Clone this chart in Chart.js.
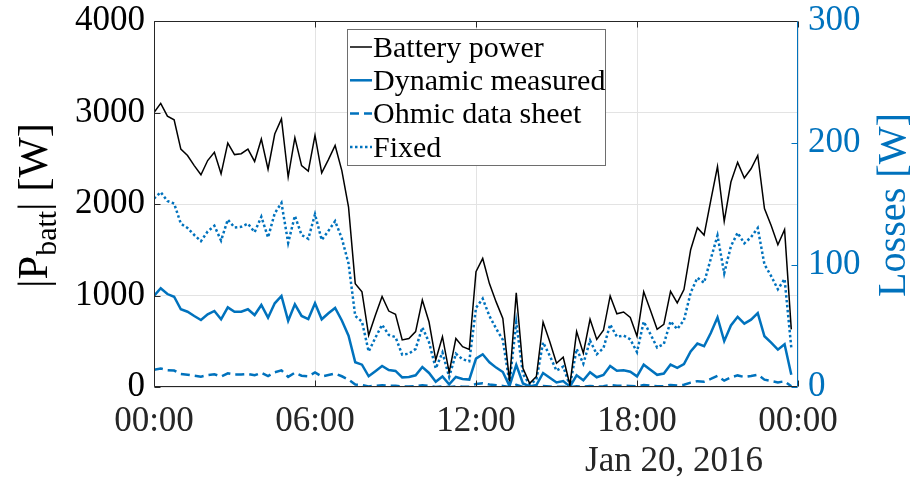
<!DOCTYPE html>
<html>
<head>
<meta charset="utf-8">
<script src="https://cdn.jsdelivr.net/npm/chart.js@4.4.1/dist/chart.umd.min.js"></script>
<style>
  html, body { margin: 0; padding: 0; background: #fff; }
  canvas { display: block; }
</style>
</head>
<body>
<canvas id="chart" width="912" height="482"></canvas>
<script>
// Jan 20, 2016, one sample every 15 minutes
const startLabel = "Jan 20, 2016";
const stepMinutes = 15;

// battery power |P_batt| [W]
const power = [
  3000, 3100, 2960, 2920, 2600, 2530, 2420, 2320, 2475, 2565, 2330, 2665, 2540, 2550, 2600, 2465, 2710, 2380, 2765, 2930, 2295, 2725, 2420, 2360,
  2750, 2340, 2485, 2640, 2365, 1965, 1130, 1040, 565, 785, 990, 830, 795, 515, 530, 605, 950, 710, 295, 550, 160, 530, 440, 410,
  1260, 1405, 1130, 930, 750, 60, 1030, 205, 40, 115, 710, 495, 260, 325, 20, 605, 370, 740, 520, 620, 995, 800, 820, 760,
  555, 1040, 840, 630, 685, 1045, 920, 1065, 1500, 1740, 1660, 2040, 2410, 1810, 2240, 2455, 2285, 2385, 2530, 1950, 1765, 1555, 1720, 630
];

// losses [W]
const dynamicMeasured = [
  74.6, 80.9, 76.2, 74.0, 63.7, 61.7, 58.2, 54.9, 59.6, 62.3, 55.5, 65.3, 61.7, 61.7, 63.7, 59.0, 67.2, 56.8, 68.6, 74.6, 54.3, 67.8, 58.2, 55.7,
  68.6, 55.5, 60.4, 64.8, 54.5, 42.0, 20.3, 18.3, 8.8, 13.0, 17.2, 13.9, 13.2, 7.9, 8.2, 9.6, 16.4, 11.5, 4.3, 8.6, 2.2, 8.2, 6.6, 6.1,
  23.3, 26.8, 20.3, 15.9, 12.3, 0.8, 18.1, 2.9, 0.5, 1.6, 11.5, 7.6, 3.7, 4.8, 0.3, 9.6, 5.5, 12.1, 8.0, 9.8, 17.3, 13.3, 13.7, 12.5,
  8.7, 18.3, 14.1, 10.0, 11.0, 18.4, 15.7, 18.8, 29.2, 35.6, 33.4, 44.3, 57.0, 37.6, 50.5, 57.5, 51.9, 55.2, 60.5, 41.6, 36.3, 30.6, 35.1, 10.0
];

const ohmicDataSheet = [
  14.2, 15.2, 13.8, 13.5, 10.7, 10.1, 9.3, 8.5, 9.7, 10.4, 8.6, 11.2, 10.2, 10.3, 10.7, 9.6, 11.6, 8.9, 12.1, 13.6, 8.3, 11.7, 9.3, 8.8,
  11.9, 8.7, 9.8, 11.0, 8.8, 6.1, 2.0, 1.7, 0.5, 1.0, 1.5, 1.1, 1.0, 0.4, 0.4, 0.6, 1.4, 0.8, 0.1, 0.5, 0.0, 0.4, 0.3, 0.3,
  2.5, 3.1, 2.0, 1.4, 0.9, 0.0, 1.7, 0.1, 0.0, 0.0, 0.8, 0.4, 0.1, 0.2, 0.0, 0.6, 0.2, 0.9, 0.4, 0.6, 1.6, 1.0, 1.1, 0.9,
  0.5, 1.7, 1.1, 0.6, 0.7, 1.7, 1.3, 1.8, 3.6, 4.8, 4.4, 6.6, 9.2, 5.2, 7.9, 9.5, 8.2, 9.0, 10.1, 6.0, 4.9, 3.8, 4.7, 0.6
];

const fixedLoss = [
  154.5, 159.7, 152.4, 150.4, 133.9, 130.3, 124.6, 119.5, 127.5, 132.1, 120.0, 137.2, 130.8, 131.3, 133.9, 126.9, 139.6, 122.6, 142.4, 150.9, 118.2, 140.3, 124.6, 121.5,
  141.6, 120.5, 128.0, 136.0, 121.8, 101.2, 58.2, 53.6, 29.1, 40.4, 51.0, 42.7, 40.9, 26.5, 27.3, 31.2, 48.9, 36.6, 15.2, 28.3, 8.2, 27.3, 22.7, 21.1,
  64.9, 72.4, 58.2, 47.9, 38.6, 3.1, 53.0, 10.6, 2.1, 5.9, 36.6, 25.5, 13.4, 16.7, 1.0, 31.2, 19.1, 38.1, 26.8, 31.9, 51.2, 41.2, 42.2, 39.1,
  28.6, 53.6, 43.3, 32.4, 35.3, 53.8, 47.4, 54.8, 77.3, 89.6, 85.5, 105.1, 124.1, 93.2, 115.4, 126.4, 117.7, 122.8, 130.3, 100.4, 90.9, 80.1, 88.6, 32.4
];

const seriesNames = ["Battery power", "Dynamic measured", "Ohmic data sheet", "Fixed"];
const xTicks = ["00:00", "06:00", "12:00", "18:00", "00:00"];

const BLUE = "#0072BD";
const FONT = "'Liberation Serif', 'Times New Roman', serif";

// hours since midnight for each sample
const hours = power.map((_, i) => i * stepMinutes / 60);
const pts = arr => arr.map((v, i) => ({ x: hours[i], y: v }));

// fixed axis sizes so the plot box lands where the original one is
const fitY = w => s => { s.width = w; s.paddingTop = 0; s.paddingBottom = 0; };

const boxPlugin = {
  id: "matlabBox",
  afterDatasetsDraw(chart) {
    const c = chart.ctx;
    const a = chart.chartArea;
    const sx = chart.scales.x, sy = chart.scales.y, sy1 = chart.scales.y1;
    const L = Math.round(a.left) + 0.5, R = Math.round(a.right) - 0.5;
    const T = Math.round(a.top) + 0.5, B = Math.round(a.bottom) - 0.5;
    c.save();
    c.lineWidth = 1;
    // ticks pointing in
    c.strokeStyle = "#262626";
    c.beginPath();
    for (let h = 0; h <= 24; h += 6) {
      const x = Math.round(sx.getPixelForValue(h)) + 0.5;
      c.moveTo(x, B); c.lineTo(x, B - 6);
      c.moveTo(x, T); c.lineTo(x, T + 6);
    }
    for (let v = 0; v <= 4000; v += 1000) {
      const y = Math.round(sy.getPixelForValue(v)) + 0.5;
      c.moveTo(L, y); c.lineTo(L + 6, y);
    }
    c.stroke();
    c.strokeStyle = BLUE;
    c.beginPath();
    for (let v = 0; v <= 300; v += 100) {
      const y = Math.round(sy1.getPixelForValue(v)) + 0.5;
      c.moveTo(R, y); c.lineTo(R - 6, y);
    }
    c.stroke();
    // box
    c.strokeStyle = "#262626";
    c.beginPath();
    c.moveTo(R, T); c.lineTo(L, T); c.lineTo(L, B); c.lineTo(R, B);
    c.stroke();
    c.strokeStyle = BLUE;
    c.beginPath();
    c.moveTo(R, T); c.lineTo(R, B);
    c.stroke();

    // legend
    const lx = 347.5, ly = 29.5, lw = 258, lh = 136;
    c.fillStyle = "#fff";
    c.fillRect(lx, ly, lw, lh);
    c.strokeStyle = "#6e6e6e";
    c.lineWidth = 1;
    c.strokeRect(lx, ly, lw, lh);
    c.font = "30px " + FONT;
    c.textBaseline = "middle";
    chart.data.datasets.forEach((ds, i) => {
      const y = 47 + i * 33.3;
      c.strokeStyle = ds.borderColor;
      c.lineWidth = ds.borderWidth;
      c.setLineDash(ds.borderDash || []);
      c.beginPath();
      c.moveTo(350, y); c.lineTo(372, y);
      c.stroke();
      c.setLineDash([]);
      c.fillStyle = "#000";
      c.textAlign = "left";
      c.fillText(ds.label, 373, y + 2);
    });

    // left axis title |P_batt| [W], runs from y=288 up to y=123
    c.save();
    c.translate(47, 288);
    c.rotate(-Math.PI / 2);
    c.fillStyle = "#000";
    c.textBaseline = "alphabetic";
    c.textAlign = "left";
    let size = 44;
    const parts = () => [["|P", size, 0], ["batt", size * 0.7, size * 0.22], ["| [W]", size, 0]];
    const widthOf = () => parts().reduce((t, p) => { c.font = p[1] + "px " + FONT; return t + c.measureText(p[0]).width; }, 0);
    size = size * 165 / widthOf();
    let x = 0;
    parts().forEach(p => {
      c.font = p[1] + "px " + FONT;
      c.fillText(p[0], x, p[2]);
      x += c.measureText(p[0]).width;
    });
    c.restore();

    // right axis title, runs from y=297 up to y=113
    c.save();
    c.translate(905, 297);
    c.rotate(-Math.PI / 2);
    c.fillStyle = BLUE;
    c.font = "42px " + FONT;
    const rs = 42 * 184 / c.measureText("Losses [W]").width;
    c.font = rs + "px " + FONT;
    c.textAlign = "left";
    c.textBaseline = "alphabetic";
    c.fillText("Losses [W]", 0, 0);
    c.restore();

    // date under the time axis
    c.fillStyle = "#262626";
    c.font = "35px " + FONT;
    c.textAlign = "center";
    c.textBaseline = "middle";
    c.fillText(startLabel, 674, 462);
    c.restore();
  }
};

const ctx = document.getElementById("chart").getContext("2d");
new Chart(ctx, {
  type: "line",
  data: {
    datasets: [
      { label: seriesNames[0], data: pts(power), yAxisID: "y", borderColor: "#000", borderWidth: 1.5 },
      { label: seriesNames[1], data: pts(dynamicMeasured), yAxisID: "y1", borderColor: BLUE, borderWidth: 2.5 },
      { label: seriesNames[2], data: pts(ohmicDataSheet), yAxisID: "y1", borderColor: BLUE, borderWidth: 2.5, borderDash: [9, 5] },
      { label: seriesNames[3], data: pts(fixedLoss), yAxisID: "y1", borderColor: BLUE, borderWidth: 2.5, borderDash: [2.5, 2.5] }
    ]
  },
  options: {
    responsive: false,
    animation: false,
    layout: { padding: { top: 21, left: 0, right: 0, bottom: 0 } },
    elements: { point: { radius: 0 }, line: { tension: 0, fill: false } },
    plugins: { legend: { display: false }, tooltip: { enabled: false } },
    scales: {
      x: {
        type: "linear", min: 0, max: 24,
        afterFit: s => { s.height = 95; s.paddingLeft = 0; s.paddingRight = 0; },
        border: { display: false },
        grid: { color: "#e3e3e3", drawTicks: false },
        ticks: {
          stepSize: 6, padding: 14, maxRotation: 0,
          color: "#262626", font: { family: FONT, size: 35 },
          callback: v => xTicks[v / 6]
        }
      },
      y: {
        position: "left", min: 0, max: 4000,
        afterFit: fitY(154),
        border: { display: false },
        grid: { color: "#e3e3e3", drawTicks: false },
        ticks: { stepSize: 1000, padding: 9, color: "#000", font: { family: FONT, size: 35 }, callback: v => String(v) }
      },
      y1: {
        position: "right", min: 0, max: 300,
        afterFit: fitY(114),
        border: { display: false },
        grid: { display: false, drawTicks: false },
        ticks: { stepSize: 100, padding: 10, color: BLUE, font: { family: FONT, size: 35 }, callback: v => String(v) }
      }
    }
  },
  plugins: [boxPlugin]
});
</script>
</body>
</html>
